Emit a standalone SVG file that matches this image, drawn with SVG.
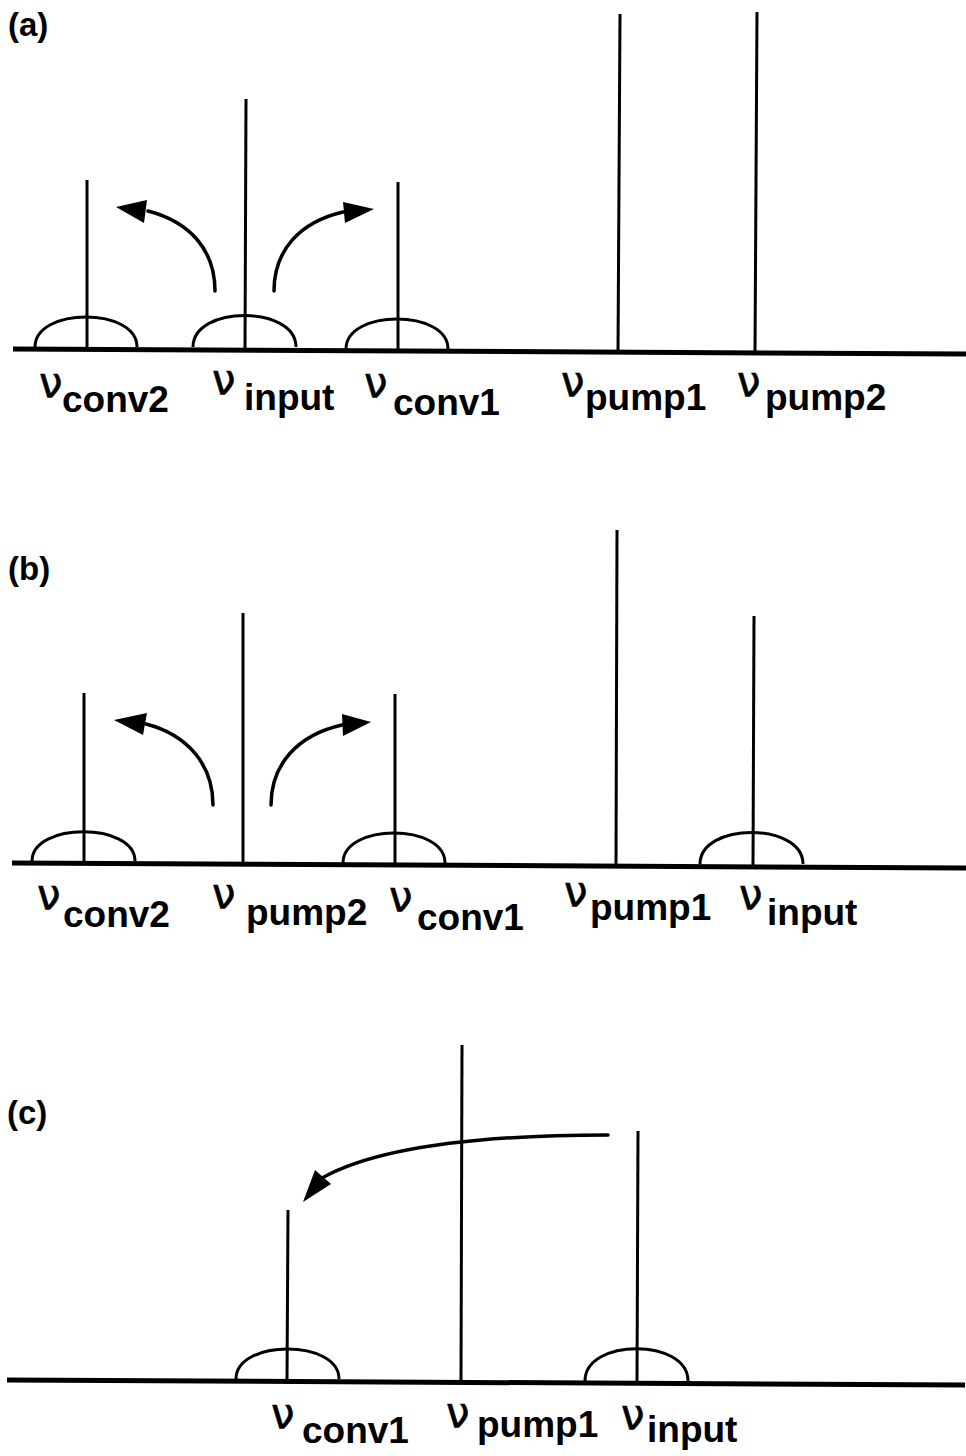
<svg xmlns="http://www.w3.org/2000/svg" width="966" height="1456" viewBox="0 0 966 1456">
<style>
.axis{stroke:#000;stroke-width:5;fill:none;stroke-linecap:butt}
.ln{stroke:#000;stroke-width:3;fill:none}
.bump{stroke:#000;stroke-width:3;fill:none}
.arr{stroke:#000;stroke-width:3.5;fill:none;stroke-linecap:round}
.head{fill:#000;stroke:none}
.nu{font-family:"DejaVu Sans",sans-serif;font-size:42px;font-weight:normal;stroke:#000;stroke-width:0.6}
.sub{font-family:"Liberation Sans",Arial,sans-serif;font-size:37px;font-weight:bold;stroke:none}
.pl{font-family:"Liberation Sans",Arial,sans-serif;font-size:33px;font-weight:bold}
</style>
<rect width="966" height="1456" fill="#fff"/>

<!-- Panel (a) -->
<g id="panel-a">
  <text class="pl" x="8" y="36">(a)</text>
  <line class="axis" x1="13" y1="349" x2="966" y2="354"/>
  <g id="a-conv2">
    <line class="ln" x1="87" y1="180" x2="87" y2="349"/>
    <path class="bump" d="M35,347 C35,307 137,307 137,347"/>
    <text x="39" y="397"><tspan class="nu">ν</tspan><tspan class="sub" x="62" y="412">conv2</tspan></text>
  </g>
  <g id="a-input">
    <line class="ln" x1="246" y1="99" x2="245" y2="350"/>
    <path class="bump" d="M193,347 C193,305 296,305 296,347"/>
    <text x="212" y="394"><tspan class="nu">ν</tspan><tspan class="sub" x="244" y="410">input</tspan></text>
  </g>
  <g id="a-conv1">
    <line class="ln" x1="398" y1="182" x2="398" y2="351"/>
    <path class="bump" d="M346,349 C346,309 448,309 448,349"/>
    <text x="364" y="397"><tspan class="nu">ν</tspan><tspan class="sub" x="393" y="415">conv1</tspan></text>
  </g>
  <g id="a-pump1">
    <line class="ln" x1="620" y1="14" x2="618" y2="352"/>
    <text x="561" y="396"><tspan class="nu">ν</tspan><tspan class="sub" x="585" y="410">pump1</tspan></text>
  </g>
  <g id="a-pump2">
    <line class="ln" x1="757" y1="12" x2="755" y2="352"/>
    <text x="737" y="396"><tspan class="nu">ν</tspan><tspan class="sub" x="765" y="410">pump2</tspan></text>
  </g>
</g>

<!-- Panel (b) -->
<g id="panel-b">
  <text class="pl" x="8" y="580">(b)</text>
  <line class="axis" x1="12" y1="863" x2="966" y2="868"/>
  <g id="b-conv2">
    <line class="ln" x1="84" y1="693" x2="84" y2="863"/>
    <path class="bump" d="M32,861 C32,822 135,822 135,861"/>
    <text x="37" y="909"><tspan class="nu">ν</tspan><tspan class="sub" x="63" y="927">conv2</tspan></text>
  </g>
  <g id="b-pump2">
    <line class="ln" x1="243" y1="613" x2="243" y2="864"/>
    <text x="212" y="908"><tspan class="nu">ν</tspan><tspan class="sub" x="246" y="925">pump2</tspan></text>
  </g>
  <g id="b-conv1">
    <line class="ln" x1="395" y1="694" x2="395" y2="865"/>
    <path class="bump" d="M343,863 C343,823 445,823 445,863"/>
    <text x="389" y="911"><tspan class="nu">ν</tspan><tspan class="sub" x="417" y="930">conv1</tspan></text>
  </g>
  <g id="b-pump1">
    <line class="ln" x1="617" y1="530" x2="616" y2="866"/>
    <text x="564" y="906"><tspan class="nu">ν</tspan><tspan class="sub" x="590" y="920">pump1</tspan></text>
  </g>
  <g id="b-input">
    <line class="ln" x1="754" y1="616" x2="753" y2="867"/>
    <path class="bump" d="M700,864 C700,822 803,822 803,864"/>
    <text x="739" y="909"><tspan class="nu">ν</tspan><tspan class="sub" x="767" y="925">input</tspan></text>
  </g>
</g>

<!-- Panel (c) -->
<g id="panel-c">
  <text class="pl" x="7" y="1124">(c)</text>
  <line class="axis" x1="7" y1="1380" x2="965" y2="1385"/>
  <g id="c-conv1">
    <line class="ln" x1="288" y1="1210" x2="287" y2="1381"/>
    <path class="bump" d="M236,1379 C236,1339 339,1339 339,1379"/>
    <text x="271" y="1428"><tspan class="nu">ν</tspan><tspan class="sub" x="302" y="1443">conv1</tspan></text>
  </g>
  <g id="c-pump1">
    <line class="ln" x1="462" y1="1045" x2="461" y2="1382"/>
    <text x="446" y="1427"><tspan class="nu">ν</tspan><tspan class="sub" x="477" y="1437">pump1</tspan></text>
  </g>
  <g id="c-input">
    <line class="ln" x1="638" y1="1131" x2="637" y2="1383"/>
    <path class="bump" d="M585,1381 C585,1338 688,1338 688,1381"/>
    <text x="621" y="1429"><tspan class="nu">ν</tspan><tspan class="sub" x="647" y="1442">input</tspan></text>
  </g>
</g>

<!-- Connectors -->
<g id="connectors">
  <path class="arr" d="M215,291 C215,250 190,222 148,211"/>
  <polygon class="head" points="116,207 147,200 144,223"/>
  <path class="arr" d="M274,291 C274,250 300,222 343,212"/>
  <polygon class="head" points="374,209 343,202 345,223"/>
  <path class="arr" d="M213,805 C213,765 188,735 146,724"/>
  <polygon class="head" points="114,720 147,713 143,735"/>
  <path class="arr" d="M271,805 C271,765 297,735 342,725"/>
  <polygon class="head" points="371,722 342,714 343,736"/>
  <path class="arr" d="M608,1135 C520,1135 390,1140 322,1178"/>
  <polygon class="head" points="303,1202 315,1170 331,1184"/>
</g>
</svg>
